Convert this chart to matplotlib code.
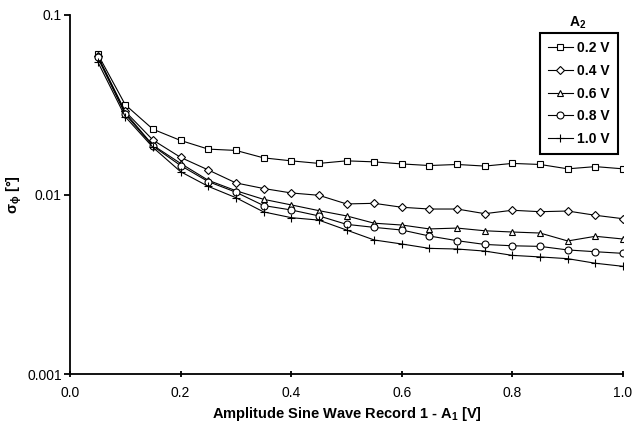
import matplotlib
matplotlib.use("Agg")
import matplotlib.pyplot as plt
import numpy as np

plt.rcParams['font.family'] = ['Liberation Sans', 'DejaVu Sans']
plt.rcParams['mathtext.fontset'] = 'custom'
plt.rcParams['mathtext.rm'] = 'Liberation Sans'
plt.rcParams['mathtext.bf'] = 'Liberation Sans:bold'
plt.rcParams['mathtext.it'] = 'Liberation Sans:italic'

# amplitude of record 1 (V)
a1 = [0.05, 0.10, 0.15, 0.20, 0.25, 0.30, 0.35, 0.40, 0.45, 0.50,
      0.55, 0.60, 0.65, 0.70, 0.75, 0.80, 0.85, 0.90, 0.95, 1.00]

# sigma_phi (deg) for each A2 amplitude
s_02 = [0.0607, 0.0316, 0.0231, 0.0200, 0.0179, 0.0176, 0.0160, 0.0154, 0.0149, 0.0154,
        0.0152, 0.0148, 0.0145, 0.0147, 0.0144, 0.0149, 0.0147, 0.0139, 0.0143, 0.0139]
s_04 = [0.0590, 0.0290, 0.0201, 0.0161, 0.0137, 0.0116, 0.0108, 0.0102, 0.0099, 0.00886,
        0.00893, 0.00849, 0.00830, 0.00830, 0.00782, 0.00817, 0.00802, 0.00809, 0.00766, 0.00733]
s_06 = [0.0590, 0.0285, 0.0188, 0.0149, 0.0120, 0.0105, 0.0094, 0.00875, 0.00813, 0.0076,
        0.00692, 0.00676, 0.00643, 0.0065, 0.00628, 0.00618, 0.0061, 0.00551, 0.00585, 0.00565]
s_08 = [0.0580, 0.0280, 0.0186, 0.0145, 0.0118, 0.0103, 0.00868, 0.0082, 0.0076, 0.00682,
        0.00656, 0.00634, 0.00587, 0.00553, 0.00527, 0.00518, 0.00514, 0.00491, 0.0048, 0.0047]
s_10 = [0.0550, 0.0271, 0.0183, 0.0134, 0.0111, 0.0096, 0.0080, 0.00743, 0.0072, 0.00634,
        0.00558, 0.0053, 0.00501, 0.00497, 0.00484, 0.00458, 0.00449, 0.00439, 0.00414, 0.00398]

labels = ['0.2 V', '0.4 V', '0.6 V', '0.8 V', '1.0 V']
series = [s_02, s_04, s_06, s_08, s_10]
markers = ['s', 'D', '^', 'o', '+']
msizes = [4.5, 3.8, 4.8, 5, 5.5]

fig = plt.figure(figsize=(6.32, 4.34), dpi=100)
ax = fig.add_axes([70 / 632, 1 - 374 / 434, 553 / 632, 359 / 434])

for y, lab, m, ms in zip(series, labels, markers, msizes):
    ax.plot(a1, y, color='black', lw=0.8, marker=m, ms=ms, mfc='white',
            mec='black', mew=0.8, label=lab)

ax.set_yscale('log')
ax.set_ylim(0.001, 0.1)
ax.set_xlim(0, 1.0)
ax.set_xticks(np.arange(0, 1.01, 0.2))
ax.set_xticklabels(['0.0', '0.2', '0.4', '0.6', '0.8', '1.0'])
ax.set_yticks([0.001, 0.01, 0.1])
ax.set_yticklabels(['0.001', '0.01', '0.1'])
ax.yaxis.set_minor_locator(matplotlib.ticker.NullLocator())

for s in ['top', 'right']:
    ax.spines[s].set_visible(False)
for s in ['left', 'bottom']:
    ax.spines[s].set_linewidth(1.3)
ax.tick_params(axis='y', direction='out', length=4, width=1.3, labelsize=10, pad=2)
ax.tick_params(axis='x', direction='inout', length=5, width=1.3, labelsize=10, pad=6)

ax.set_xlabel('Amplitude Sine Wave Record 1 - A$_\\mathbf{1}$ [V]', fontsize=10.5,
              fontweight='bold', labelpad=4)
ax.set_ylabel('σ$_\\mathbf{\\phi}$ [°]', fontsize=10.5, fontweight='bold', labelpad=2)

leg = ax.legend(loc='upper right', bbox_to_anchor=(618 / 632, 1 - 33 / 434),
                bbox_transform=fig.transFigure, borderaxespad=0, frameon=True,
                fancybox=False, edgecolor='black', handlelength=1.8,
                handletextpad=0.3, labelspacing=0.62, borderpad=0.6,
                prop={'weight': 'bold', 'size': 10})
leg.get_frame().set_linewidth(1.5)
leg.get_frame().set_alpha(1)

fig.text(578 / 632, 1 - 23 / 434, 'A$_\\mathbf{2}$', ha='center', va='center',
         fontsize=10, fontweight='bold')

fig.savefig('out.png', dpi=100)
